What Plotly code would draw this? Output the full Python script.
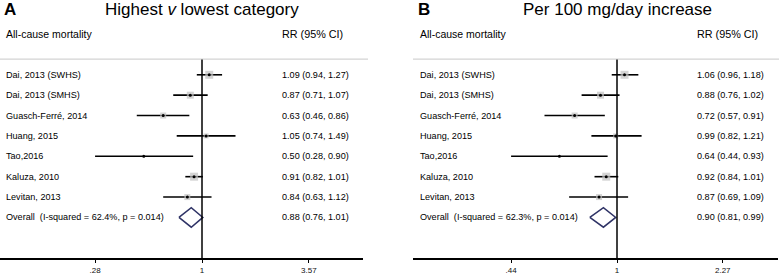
import math
import plotly.graph_objects as go

# ---------------- data ----------------
studies = ["Dai, 2013 (SWHS)", "Dai, 2013 (SMHS)", "Guasch-Ferré, 2014", "Huang, 2015",
           "Tao,2016", "Kaluza, 2010", "Levitan, 2013"]

a_rr = [1.09, 0.87, 0.63, 1.05, 0.50, 0.91, 0.84]
a_lo = [0.94, 0.71, 0.46, 0.74, 0.28, 0.82, 0.63]
a_hi = [1.27, 1.07, 0.86, 1.49, 0.90, 1.01, 1.12]
a_weight = [8, 7, 6, 5, 2, 8, 6]
a_overall = [0.88, 0.76, 1.01]
a_overall_label = "Overall&nbsp; (I-squared = 62.4%, p = 0.014)"
a_ticks = [0.28, 1, 3.57]
a_ticktext = [".28", "1", "3.57"]

b_rr = [1.06, 0.88, 0.72, 0.99, 0.64, 0.92, 0.87]
b_lo = [0.96, 0.76, 0.57, 0.82, 0.44, 0.84, 0.69]
b_hi = [1.18, 1.02, 0.91, 1.21, 0.93, 1.01, 1.09]
b_weight = [8, 7, 6, 5, 2, 8, 6]
b_overall = [0.90, 0.81, 0.99]
b_overall_label = "Overall&nbsp; (I-squared = 62.3%, p = 0.014)"
b_ticks = [0.44, 1, 2.27]
b_ticktext = [".44", "1", "2.27"]

# ---------------- layout constants (pixels) ----------------
W, H = 779, 275
FONT = "Liberation Sans"
LN10 = math.log(10)

def prange(px0, px1, cx, k):
    return [(px0 - cx) / k / LN10, (px1 - cx) / k / LN10]

fig = go.Figure()

def panel(xa, rr, lo, hi, wt, ov, ov_label, label_x, rr_x, letter, letter_x, title, title_x,
          line_x0, line_x1):
    n = len(rr)
    rows = list(range(n))
    xs, ys = [], []
    for i in rows:
        xs += [lo[i], hi[i], None]
        ys += [i, i, None]
    fig.add_trace(go.Scatter(x=xs, y=ys, mode="lines", xaxis=xa, yaxis="y",
                             line=dict(color="black", width=1.6), hoverinfo="skip"))
    fig.add_trace(go.Scatter(x=rr, y=rows, mode="markers", xaxis=xa, yaxis="y",
                             marker=dict(symbol="square", size=wt, color="#c2c2c2",
                                         line=dict(width=0)), hoverinfo="skip"))
    fig.add_trace(go.Scatter(x=rr, y=rows, mode="markers", xaxis=xa, yaxis="y",
                             marker=dict(symbol="circle", size=3, color="black"),
                             hoverinfo="skip"))
    yo = n
    fig.add_trace(go.Scatter(x=[ov[1], ov[0], ov[2], ov[0], ov[1]],
                             y=[yo, yo - 0.48, yo, yo + 0.48, yo],
                             mode="lines", xaxis=xa, yaxis="y",
                             line=dict(color="#2f3366", width=1.5), hoverinfo="skip"))
    fig.add_shape(type="line", xref=xa, yref="y", x0=1, x1=1, y0=-0.77, y1=9.0,
                  line=dict(color="black", width=1.5))
    fig.add_shape(type="line", xref="paper", yref="y", x0=line_x0 / W, x1=line_x1 / W,
                  y0=-0.77, y1=-0.77, line=dict(color="#c8c8c8", width=1))
    labels = studies + [ov_label]
    vals = [f"{rr[i]:.2f} ({lo[i]:.2f}, {hi[i]:.2f})" for i in rows] + \
           [f"{ov[0]:.2f} ({ov[1]:.2f}, {ov[2]:.2f})"]
    for i, (lab, v) in enumerate(zip(labels, vals)):
        fig.add_annotation(x=label_x / W, y=i, xref="paper", yref="y", text=lab,
                           showarrow=False, xanchor="left", yanchor="middle",
                           font=dict(family=FONT, size=9.1, color="#000"))
        fig.add_annotation(x=rr_x / W, y=i, xref="paper", yref="y", text=v,
                           showarrow=False, xanchor="left", yanchor="middle",
                           font=dict(family=FONT, size=9.1, color="#000"))
    fig.add_annotation(x=label_x / W, y=1 - 34 / H, xref="paper", yref="paper",
                       text="All-cause mortality", showarrow=False, xanchor="left",
                       yanchor="middle", font=dict(family=FONT, size=10.5, color="#000"))
    fig.add_annotation(x=rr_x / W, y=1 - 34 / H, xref="paper", yref="paper",
                       text="RR (95% CI)", showarrow=False, xanchor="left",
                       yanchor="middle", font=dict(family=FONT, size=10.8, color="#000"))
    fig.add_annotation(x=letter_x / W, y=1 - 10 / H, xref="paper", yref="paper",
                       text=f"<b>{letter}</b>", showarrow=False, xanchor="left",
                       yanchor="middle", font=dict(family=FONT, size=17, color="black"))
    fig.add_annotation(x=title_x / W, y=1 - 10 / H, xref="paper", yref="paper",
                       text=title, showarrow=False, xanchor="center",
                       yanchor="middle", font=dict(family=FONT, size=17, color="black"))

panel("x", a_rr, a_lo, a_hi, a_weight, a_overall, a_overall_label, 4, 280,
      "A", 2, "Highest <i>v</i> lowest category", 202, 0, 368)
panel("x2", b_rr, b_lo, b_hi, b_weight, b_overall, b_overall_label, 418, 695,
      "B", 416, "Per 100 mg/day increase", 617, 413, 779)

axis_common = dict(type="log", showgrid=False, zeroline=False, showline=True,
                   linecolor="black", linewidth=1.5, ticks="outside", ticklen=3,
                   tickwidth=1, tickcolor="black",
                   tickfont=dict(family=FONT, size=8, color="#111"), anchor="y",
                   fixedrange=True)

fig.update_layout(
    width=W, height=H, margin=dict(l=0, r=0, t=0, b=0),
    paper_bgcolor="white", plot_bgcolor="white", showlegend=False,
    xaxis=dict(domain=[0, 363 / W], range=prange(0, 363, 202, 84),
               tickvals=a_ticks, ticktext=a_ticktext, **axis_common),
    xaxis2=dict(domain=[413 / W, 778 / W], range=prange(413, 778, 617, 129),
                tickvals=b_ticks, ticktext=b_ticktext, **axis_common),
    yaxis=dict(domain=[1 - 262 / H, 1], range=[9.0, -3.67], visible=False,
               fixedrange=True),
)

fig.write_html("out.html", config={"displayModeBar": False},
               post_script="document.body.style.margin='0px';"
               "document.body.style.overflow='hidden';")
